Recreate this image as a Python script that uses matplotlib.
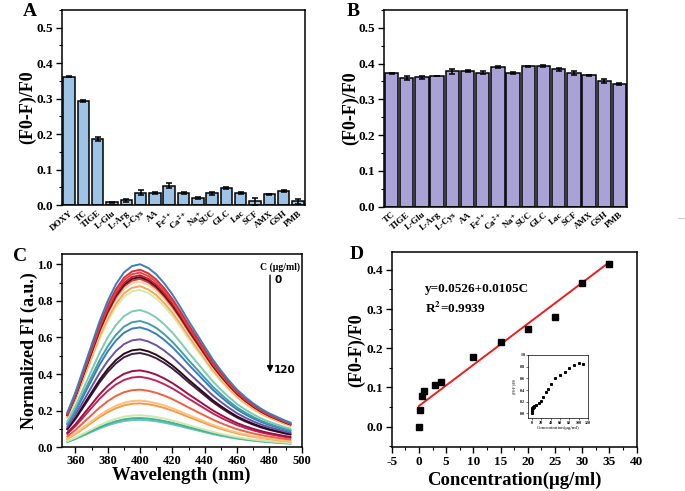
import numpy as np
import matplotlib
matplotlib.use('Agg')
import matplotlib.pyplot as plt
from matplotlib.ticker import MultipleLocator
from matplotlib.lines import Line2D

plt.rcParams['font.family'] = ['Liberation Serif', 'DejaVu Serif']
plt.rcParams['font.weight'] = 'bold'
plt.rcParams['mathtext.fontset'] = 'stix'
plt.rcParams['axes.linewidth'] = 1.1
plt.rcParams['axes.unicode_minus'] = False

# ---- panel A data
labels_a = ['DOXY', 'TC', 'TIGE', 'L-Glu', 'L-Arg', 'L-Cys', 'AA', 'Fe$^{3+}$', 'Ca$^{2+}$',
            'Na$^{+}$', 'SUC', 'GLC', 'Lac', 'SCF', 'AMX', 'GSH', 'PMB']
vals_a = [0.362, 0.293, 0.186, 0.008, 0.013, 0.035, 0.034, 0.055, 0.035,
          0.019, 0.033, 0.047, 0.034, 0.010, 0.030, 0.040, 0.010]
err_a = [0.002, 0.002, 0.005, 0.001, 0.004, 0.007, 0.003, 0.006, 0.003,
         0.003, 0.004, 0.003, 0.003, 0.009, 0.002, 0.003, 0.008]

# ---- panel B data
labels_b = ['TC', 'TIGE', 'L-Glu', 'L-Arg', 'L-Cys', 'AA', 'Fe$^{3+}$', 'Ca$^{2+}$',
            'Na$^{+}$', 'SUC', 'GLC', 'Lac', 'SCF', 'AMX', 'GSH', 'PMB']
vals_b = [0.373, 0.360, 0.362, 0.365, 0.379, 0.379, 0.375, 0.391,
          0.373, 0.392, 0.393, 0.384, 0.374, 0.367, 0.351, 0.343]
err_b = [0.002, 0.006, 0.004, 0.001, 0.007, 0.003, 0.003, 0.003,
         0.003, 0.002, 0.002, 0.004, 0.006, 0.001, 0.005, 0.002]

# ---- panel C data (profile, peak height of each spectrum)
wavelength = [355, 360, 365, 370, 375, 380, 385, 390, 395, 400, 405, 410, 415, 420, 425,
              430, 435, 440, 445, 450, 455, 460, 465, 470, 475, 480, 485, 490, 493]
profile = [0.19, 0.30, 0.43, 0.56, 0.69, 0.80, 0.89, 0.955, 0.99, 1.0, 0.98, 0.945, 0.895, 0.835, 0.765,
           0.69, 0.62, 0.55, 0.48, 0.42, 0.365, 0.315, 0.275, 0.24, 0.21, 0.185, 0.165, 0.145, 0.135]
peak_fi = [1.00, 0.97, 0.955, 0.94, 0.93, 0.92, 0.905, 0.88, 0.86, 0.75, 0.69, 0.655,
           0.59, 0.535, 0.515, 0.42, 0.385, 0.315, 0.255, 0.24, 0.175, 0.16, 0.15]
spec_colors = ['#3B7EC0', '#D7303A', '#E8473F', '#C0203A', '#3A1020', '#E03A3A', '#FBD7A0',
               '#F9A55A', '#D4ECA8', '#7FCBAE', '#3F9FAB', '#3A7DC0', '#6A52A8', '#2E0A1A',
               '#3D1F3F', '#9E1043', '#C2245A', '#F0603F', '#FDC07A', '#F59A48', '#CDE8A8',
               '#40B0A0', '#6BC4A8']

# ---- panel D data
conc = [0, 0.25, 0.5, 1, 3, 4, 10, 15, 20, 25, 30, 35]
resp = [0.0, 0.043, 0.077, 0.090, 0.107, 0.115, 0.177, 0.217, 0.248, 0.279, 0.366, 0.415]
intercept, slope = 0.0526, 0.0105
conc_all = [0, 0.25, 0.5, 1, 2, 3, 4, 5, 10, 15, 20, 25, 30, 35, 40, 50, 60, 70, 80, 90, 100, 110]
resp_all = [0.0, 0.043, 0.077, 0.09, 0.10, 0.107, 0.115, 0.12, 0.15, 0.18, 0.22, 0.28, 0.36, 0.42,
            0.50, 0.60, 0.65, 0.71, 0.77, 0.83, 0.86, 0.85]

fig = plt.figure(figsize=(6.85, 4.91), dpi=100)
W, H = 685.0, 491.0


def box(l, t, r, b):
    return [l / W, 1 - b / H, (r - l) / W, (b - t) / H]


def style(ax, fs=9.5):
    ax.tick_params(axis='both', which='major', direction='out', length=4, width=1.0, labelsize=fs,
                   top=False, right=False, pad=2.5)
    ax.tick_params(axis='both', which='minor', direction='out', length=2, width=0.8, top=False, right=False)
    for lab in ax.get_xticklabels() + ax.get_yticklabels():
        lab.set_fontweight('bold')


def bars(ax, labels, vals, errs, color, width):
    x = np.arange(len(vals))
    ax.bar(x, vals, width=width, color=color, edgecolor='black', linewidth=1.1,
           yerr=errs, capsize=2.5, error_kw=dict(elinewidth=1.1, capthick=1.1, ecolor='black'))
    ax.set_xlim(-0.5, len(vals) - 0.5)
    ax.set_ylim(0, 0.55)
    ax.yaxis.set_major_locator(MultipleLocator(0.1))
    ax.yaxis.set_minor_locator(MultipleLocator(0.05))
    ax.set_ylabel('(F0-F)/F0', fontsize=13, fontweight='bold')
    style(ax)
    ax.set_xticks(x)
    ax.set_xticklabels(labels, rotation=40, ha='right', rotation_mode='anchor', fontsize=6.5)
    ax.tick_params(axis='x', length=0, pad=3)


axA = fig.add_axes(box(62, 10, 305, 205))
bars(axA, labels_a, vals_a, err_a, '#9DC3E6', 0.8)
axA.yaxis.set_label_coords(-0.105, 0.5)
fig.text(23 / W, 1 - 16 / H, 'A', fontsize=14, fontweight='bold')

axB = fig.add_axes(box(384, 10, 627, 206.5))
bars(axB, labels_b, vals_b, err_b, '#A8A2D6', 0.88)
axB.yaxis.set_label_coords(-0.1, 0.5)
fig.text(347 / W, 1 - 16 / H, 'B', fontsize=14, fontweight='bold')

# ---- panel C
axC = fig.add_axes(box(61.7, 254, 301.7, 447.3))
prof = np.array(profile)
for pk, c in list(zip(peak_fi, spec_colors))[::-1]:
    axC.plot(wavelength, prof * pk, color=c, lw=1.4)
axC.set_xlim(351.5, 500)
axC.set_ylim(0, 1.056)
axC.xaxis.set_major_locator(MultipleLocator(20))
axC.xaxis.set_minor_locator(MultipleLocator(10))
axC.yaxis.set_major_locator(MultipleLocator(0.2))
axC.yaxis.set_minor_locator(MultipleLocator(0.1))
axC.set_xlabel('Wavelength (nm)', fontsize=13.5, fontweight='bold')
axC.set_ylabel('Normalized FI (a.u.)', fontsize=13, fontweight='bold')
style(axC, 9)
axC.tick_params(axis='x', which='major', pad=1.5)
axC.xaxis.set_label_coords(0.5, -0.1)
axC.yaxis.set_label_coords(-0.097, 0.5)
axC.annotate('', xy=(480.4, 0.395), xytext=(480.4, 0.955),
             arrowprops=dict(arrowstyle='-|>', color='black', lw=1.0, mutation_scale=9))
axC.text(486.5, 0.985, 'C (μg/ml)', fontsize=7, fontweight='bold', ha='center', va='center')
axC.text(483, 0.915, '0', fontsize=7.5, fontweight='bold', family='DejaVu Sans', ha='left', va='center')
axC.text(482.5, 0.42, '120', fontsize=7.5, fontweight='bold', family='DejaVu Sans', ha='left', va='center')
fig.text(13 / W, 1 - 261 / H, 'C', fontsize=14, fontweight='bold')

# ---- panel D
axD = fig.add_axes(box(391.7, 252.3, 636.7, 447.3))
fit_x = np.array([0, 35])
axD.plot(fit_x, intercept + slope * fit_x, color='#EE1C1C', lw=1.4)
axD.plot(conc, resp, 's', color='black', markersize=4.5)
axD.set_xlim(-5, 40)
axD.set_ylim(-0.053, 0.445)
axD.xaxis.set_major_locator(MultipleLocator(5))
axD.xaxis.set_minor_locator(MultipleLocator(2.5))
axD.yaxis.set_major_locator(MultipleLocator(0.1))
axD.yaxis.set_minor_locator(MultipleLocator(0.05))
axD.set_xlabel('Concentration(μg/ml)', fontsize=13.5, fontweight='bold')
axD.set_ylabel('(F0-F)/F0', fontsize=13, fontweight='bold')
axD.xaxis.set_label_coords(0.5, -0.125)
axD.yaxis.set_label_coords(-0.108, 0.5)
style(axD)
axD.text(1.1, 0.35, 'y=0.0526+0.0105C', fontsize=9.5, fontweight='bold', va='center')
axD.text(1.1, 0.302, 'R$^{\\mathbf{2}}$=0.9939', fontsize=9.5, fontweight='bold', va='center')
fig.text(350 / W, 1 - 259 / H, 'D', fontsize=14, fontweight='bold')

axI = fig.add_axes(box(528, 355, 588, 418))
axI.plot(conc_all, resp_all, 's', color='black', markersize=1.2)
axI.set_xlim(-8, 120)
axI.set_ylim(-0.08, 1.0)
axI.xaxis.set_major_locator(MultipleLocator(20))
axI.yaxis.set_major_locator(MultipleLocator(0.2))
axI.tick_params(labelsize=3, length=1.2, width=0.4, pad=0.8)
for s in axI.spines.values():
    s.set_linewidth(0.5)
axI.set_xlabel('Concentration(μg/ml)', fontsize=3.5, labelpad=1)
axI.set_ylabel('(F$_0$-F)/F$_0$', fontsize=3, labelpad=1)

fig.add_artist(Line2D([678 / W, 685 / W], [1 - 218 / H] * 2, color='#cccccc', lw=0.8))

fig.savefig('out.png', dpi=100)
